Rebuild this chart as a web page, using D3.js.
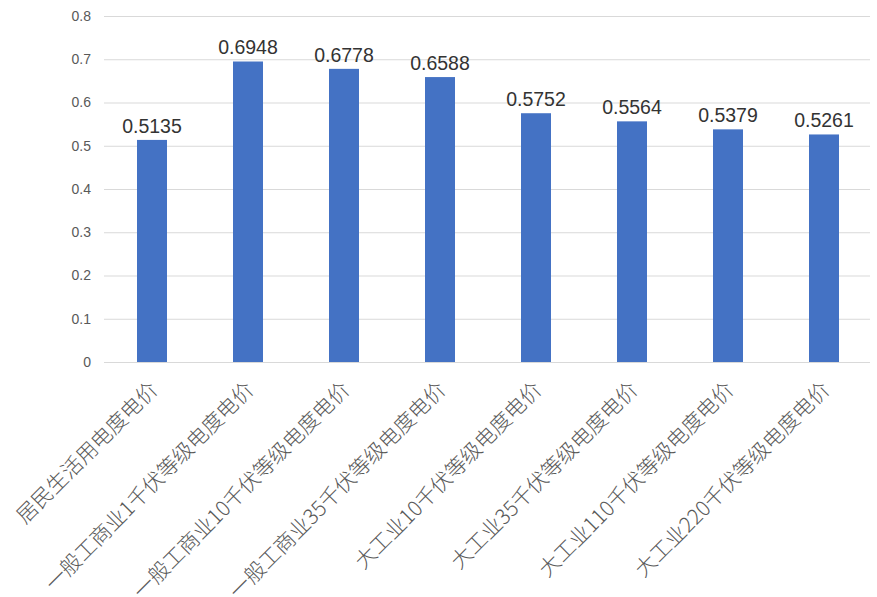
<!DOCTYPE html>
<html><head><meta charset="utf-8">
<script src="https://cdn.jsdelivr.net/npm/d3@7/dist/d3.min.js"></script>
<style>body{margin:0;background:#fff;}svg{display:block;}</style>
</head><body>
<svg id="chart" width="877" height="597"></svg>
<script>
const categories = ["居民生活用电度电价","一般工商业1千伏等级电度电价","一般工商业10千伏等级电度电价","一般工商业35千伏等级电度电价","大工业10千伏等级电度电价","大工业35千伏等级电度电价","大工业110千伏等级电度电价","大工业220千伏等级电度电价"];
const values = [0.5135,0.6948,0.6778,0.6588,0.5752,0.5564,0.5379,0.5261];
const yTicks = [0,0.1,0.2,0.3,0.4,0.5,0.6,0.7,0.8];

(function(){
const svg = d3.select("#chart");
const mLeft = 104, mRight = 872, mTop = 16, mBottom = 362;
const x = d3.scaleBand().domain(categories).range([mLeft, mRight]).paddingInner(0.6875).paddingOuter(0.34375);
const y = d3.scaleLinear().domain([0, 0.8]).range([mBottom, mTop]);

// gridlines
svg.append("g").selectAll("line").data(yTicks).join("line")
  .attr("x1", mLeft).attr("x2", 870)
  .attr("y1", d => y(d) + 0.5).attr("y2", d => y(d) + 0.5)
  .attr("stroke", "#d9d9d9").attr("stroke-width", 1);

// y axis labels
const yAxis = d3.axisLeft(y).tickValues(yTicks).tickSize(0).tickPadding(0).tickFormat(d => d === 0 ? "0" : d3.format(".1f")(d));
const gy = svg.append("g").attr("transform", `translate(91,0)`).call(yAxis);
gy.select(".domain").remove();
gy.selectAll("text").attr("fill", "#595959").style("font-family", "'Liberation Sans', Arial, sans-serif").style("font-size", "14px");

// bars
svg.append("g").selectAll("rect").data(values).join("rect")
  .attr("x", (d, i) => x(categories[i]))
  .attr("y", d => y(d))
  .attr("width", x.bandwidth())
  .attr("height", d => mBottom - y(d))
  .attr("fill", "#4472c4");

// value labels
svg.append("g").selectAll("text").data(values).join("text")
  .attr("x", (d, i) => x(categories[i]) + x.bandwidth() / 2)
  .attr("y", d => y(d) - 7)
  .attr("text-anchor", "middle")
  .attr("fill", "#333333")
  .style("font-family", "'Liberation Sans', Arial, sans-serif")
  .style("font-size", "19.5px")
  .text(d => d.toFixed(4));

// x labels
svg.append("g").selectAll("text").data(categories).join("text")
  .attr("transform", d => `translate(${x(d) + x.bandwidth() / 2 + 7},391) rotate(-45)`)
  .attr("text-anchor", "end")
  .attr("fill", "#595959")
  .style("font-family", "'Noto Sans CJK SC', sans-serif")
  .style("font-weight", "300")
  .style("font-size", "21px")
  .text(d => d);
})();
</script>
</body></html>
